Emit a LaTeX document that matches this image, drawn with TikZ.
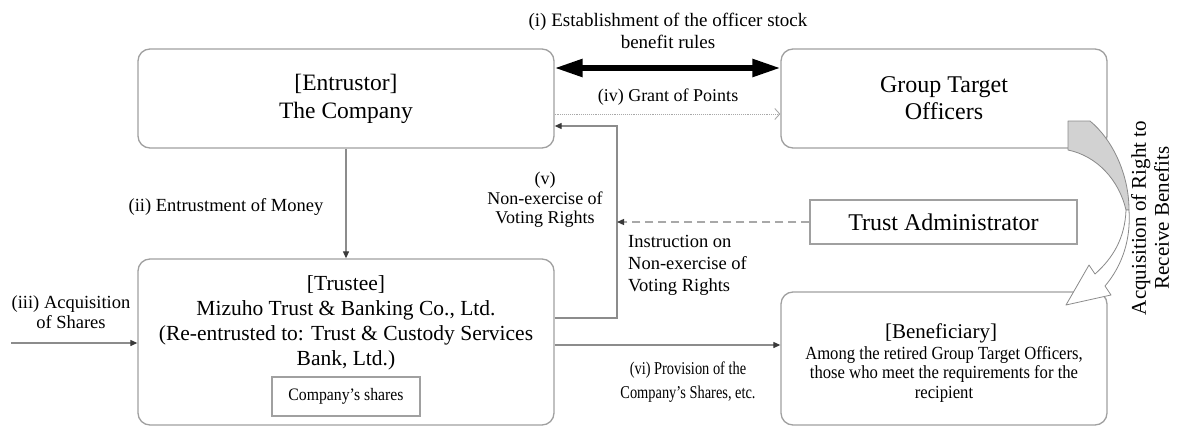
\documentclass[tikz,border=0pt]{standalone}
\usepackage{fontspec}
\setmainfont{Liberation Serif}
\newfontfamily\condfont[FakeStretch=0.8]{Liberation Serif}
\newfontfamily\semifont[FakeStretch=0.9]{Liberation Serif}
\usetikzlibrary{arrows.meta}
\newcommand{\myfs}[2]{\fontsize{#1}{#2}\selectfont}
\definecolor{boxgray}{HTML}{A0A0A0}
\definecolor{linegray}{HTML}{8C8C8C}
\definecolor{tipgray}{HTML}{3A3A3A}
\definecolor{dashgray}{HTML}{A8A8A8}
\definecolor{fillgray}{HTML}{D2D2D2}
\definecolor{arrowedge}{HTML}{8A8A8A}
\begin{document}
\begin{tikzpicture}[x=1pt,y=-1pt,
  rbox/.style={draw=boxgray, line width=1.3pt, rounded corners=12pt, inner sep=0pt},
  sbox/.style={draw=boxgray, line width=1.1pt, inner sep=0pt},
  conn/.style={draw=linegray, line width=1.1pt},
  tip/.style={-{Triangle[length=7pt,width=6pt,color=tipgray]}},
  lbl/.style={align=center, inner sep=0pt}
]
\useasboundingbox (0,0) rectangle (1178,428);

% boxes
\node[rbox, minimum width=416pt, minimum height=99pt, align=center, font=\myfs{23.5}{28}] (ent) at (346,98.5) {[Entrustor]\\The Company};
\node[rbox, minimum width=326pt, minimum height=99pt, align=center, font=\myfs{24}{27}] (gto) at (944,98.5) {Group Target\\Officers};
\node[rbox, minimum width=416pt, minimum height=166pt] (tr) at (346,342) {};
\node[lbl, font=\myfs{21.5}{25}] (trtext) at (346,322.5) {[Trustee]\\Mizuho Trust \& Banking Co., Ltd.\\(Re-entrusted to: Trust \& Custody Services\\Bank, Ltd.)};
\node[sbox, minimum width=148pt, minimum height=39pt, font=\semifont\myfs{17.5}{20}] (shares) at (346,396.5) {Company’s shares};
\node[sbox, minimum width=267pt, minimum height=44pt, font=\myfs{24}{27}] (ta) at (943.5,222) {Trust Administrator};
\node[rbox, minimum width=326pt, minimum height=133pt] (ben) at (944,358.5) {};
\node[lbl, font=\myfs{21}{24}] (benhead) at (941,333) {[Beneficiary]};
\node[lbl, font=\semifont\myfs{18.5}{19.5}] (bentext) at (944,374) {Among the retired Group Target Officers,\\those who meet the requirements for the\\recipient};

% helper coordinates
\coordinate (y68) at (0,68);
\coordinate (y114) at (0,114);
\coordinate (y126) at (0,126);
\coordinate (y318) at (0,318);
\coordinate (y345) at (0,345);
\coordinate (src) at (11,343);
\coordinate (vtop) at (617,126);
\coordinate (vbot) at (617,318);
\coordinate (vmid) at (617,222);

% (i) thick double arrow
\draw[line width=5.5pt, {Triangle[length=28pt,width=17pt]}-{Triangle[length=28pt,width=17pt]}] (ent.east |- y68) -- (gto.west |- y68);
\node[lbl, font=\myfs{19}{22}] (lbl1) at (668,31) {(i) Establishment of the officer stock\\benefit rules};

% (iv) dotted
\draw[draw=dashgray, line width=0.9pt, densely dotted, -{Straight Barb[length=5pt,width=11pt,color=dashgray]}] (ent.east |- y114) -- (gto.west |- y114);
\node[lbl, font=\myfs{18}{20}] (lbl4) at (668,97) {(iv) Grant of Points};

% (ii)
\draw[conn, tip] (ent.south) -- (tr.north);
\node[lbl, font=\myfs{18.5}{21}] (lbl2) at (226,207) {(ii) Entrustment of Money};

% (iii)
\draw[conn, tip] (src) -- (tr.west |- src);
\node[lbl, font=\myfs{18.5}{20.5}] (lbl3) at (71,312) {(iii) Acquisition\\of Shares};

% (v) return path
\draw[conn, tip] (tr.east |- y318) -- (vbot) -- (vtop) -- (ent.east |- y126);
\node[lbl, font=\myfs{18}{19.5}] (lbl5) at (545,200) {(v)\\Non-exercise of\\Voting Rights};

% instruction dashed
\draw[draw=dashgray, line width=1.3pt, dash pattern=on 8pt off 5pt, -{Triangle[length=7pt,width=6pt,color=tipgray]}] (ta.west) -- (vmid);
\node[lbl, align=left, anchor=west, font=\myfs{18.5}{22}] (lblins) at (628,265) {Instruction on\\Non-exercise of\\Voting Rights};

% (vi)
\draw[conn, tip] (tr.east |- y345) -- (ben.west |- y345);
\node[lbl, font=\condfont\myfs{18}{24}] (lbl6) at (688,382) {(vi) Provision of the\\Company’s Shares, etc.};

% curved block arrow
\draw[draw=arrowedge, fill=fillgray, line width=0.8pt, line join=round]
  (1068,121) -- (1090,121) .. controls (1113,140) and (1129,175) .. (1129,210)
  -- (1126,210) .. controls (1119,180) and (1097,156) .. (1068,150) -- cycle;
\draw[draw=arrowedge, fill=white, line width=0.8pt, line join=round]
  (1126,210) .. controls (1125,238) and (1113,258) .. (1095,274)
  -- (1089,265) -- (1066,305) -- (1111,295) -- (1105,286)
  .. controls (1122,266) and (1131,240) .. (1129,210) -- cycle;

% vertical label
\node[lbl, rotate=90, font=\myfs{21}{23}] (lblacq) at (1150,218) {Acquisition of Right to\\Receive Benefits};
\end{tikzpicture}
\end{document}
